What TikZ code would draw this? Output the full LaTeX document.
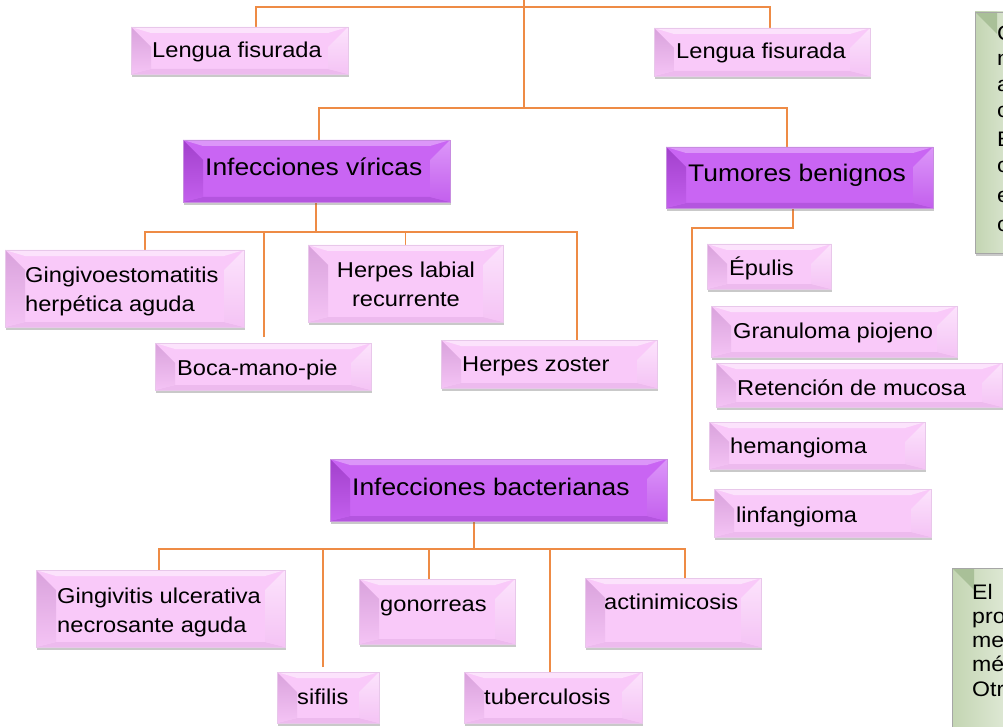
\documentclass[tikz,border=0pt]{standalone}
\usepackage{fontspec}
\setmainfont{Liberation Sans}[FakeStretch=1.1]
\usetikzlibrary{calc,shadows}
\definecolor{pinkA}{HTML}{F9C9F9}
\definecolor{pinkL}{HTML}{FCE3FC}
\definecolor{pinkD}{HTML}{D9A2DC}
\definecolor{pinkB}{HTML}{EDBAEE}
\definecolor{purA}{HTML}{C965F3}
\definecolor{purL}{HTML}{DC96F9}
\definecolor{purD}{HTML}{A240CC}
\definecolor{purB}{HTML}{B455DF}
\definecolor{grnD}{HTML}{C3D5B2}
\definecolor{grnL}{HTML}{F2F6EE}
\definecolor{grnT}{HTML}{A9C098}
\definecolor{orangeLine}{HTML}{EE8B45}
\pgfdeclarelayer{bg}
\pgfsetlayers{bg,main}
\newcommand\bevelfill[5]{%
  \fill[#1] (path picture bounding box.north west) -- (path picture bounding box.north east)
    -- ([xshift=-20pt,yshift=-6pt]path picture bounding box.north east)
    -- ([xshift=20pt,yshift=-6pt]path picture bounding box.north west) -- cycle;
  \fill[#4] (path picture bounding box.south west) -- (path picture bounding box.south east)
    -- ([xshift=-20pt,yshift=5pt]path picture bounding box.south east)
    -- ([xshift=20pt,yshift=5pt]path picture bounding box.south west) -- cycle;
  \shade[top color=#2, bottom color=#5] (path picture bounding box.north west)
    -- ([xshift=20pt,yshift=-20pt]path picture bounding box.north west)
    -- ([xshift=20pt,yshift=5pt]path picture bounding box.south west)
    -- (path picture bounding box.south west) -- cycle;
  \shade[top color=#3, bottom color=#5] (path picture bounding box.north east)
    -- ([xshift=-20pt,yshift=-20pt]path picture bounding box.north east)
    -- ([xshift=-20pt,yshift=5pt]path picture bounding box.south east)
    -- (path picture bounding box.south east) -- cycle;
}
\newcommand\mkbox[6]{\node[#1,minimum width={(#5-#3)*1pt},minimum height={(#6-#4)*1pt}] (#2) at ({(#3+#5)/2},{(#4+#6)/2}) {};}
\begin{document}
\begin{tikzpicture}[x=1pt,y=-1pt,
  boxbase/.style={inner sep=0pt,outer sep=0pt,
    drop shadow={shadow xshift=1pt,shadow yshift=-3pt,opacity=0.35,fill=black!60}},
  pinkbox/.style={boxbase,fill=pinkA,draw=pinkD!60,line width=0.4pt,
    path picture={\bevelfill{pinkL}{pinkD}{pinkL}{pinkB}{pinkA!85!pinkD}}},
  purbox/.style={boxbase,fill=purA,draw=purD!60,line width=0.4pt,
    path picture={\bevelfill{purL}{purD}{purL}{purB}{purA!85!purD}}},
  greenbox/.style={boxbase,left color=grnD,right color=grnL,draw=black!35,line width=0.5pt,
    path picture={\fill[grnT] (path picture bounding box.north west) -- ([xshift=22pt,yshift=-22pt]path picture bounding box.north west) -- ([xshift=22pt]path picture bounding box.north west) -- cycle;}},
  link/.style={draw=orangeLine,line width=1.2pt},
  smalltxt/.style={inner sep=0pt,font=\fontsize{21.5}{26}\selectfont},
  bigtxt/.style={inner sep=0pt,font=\fontsize{24}{29}\selectfont},
  gtxt/.style={inner sep=0pt,anchor=base west,font=\fontsize{21}{25}\selectfont},
]
\useasboundingbox (0,0) rectangle (1003,727);
% boxes
\mkbox{pinkbox}{lf1}{131}{27}{348}{74}
\mkbox{pinkbox}{lf2}{654}{28}{870}{76}
\mkbox{purbox}{vir}{183}{140}{450}{202}
\mkbox{purbox}{tum}{666}{147}{933}{208}
\mkbox{pinkbox}{gin}{5}{250}{244}{327}
\mkbox{pinkbox}{hl}{308}{245}{503}{322}
\mkbox{pinkbox}{boca}{155}{343}{371}{390}
\mkbox{pinkbox}{zos}{441}{340}{657}{388}
\mkbox{pinkbox}{epu}{707}{244}{831}{289}
\mkbox{pinkbox}{gra}{711}{306}{957}{357}
\mkbox{pinkbox}{ret}{716}{363}{1002}{407}
\mkbox{pinkbox}{hem}{709}{422}{925}{469}
\mkbox{pinkbox}{lin}{714}{489}{931}{537}
\mkbox{purbox}{bac}{330}{459}{667}{521}
\mkbox{pinkbox}{gui}{36}{570}{285}{647}
\mkbox{pinkbox}{gon}{359}{579}{515}{644}
\mkbox{pinkbox}{act}{585}{578}{761}{647}
\mkbox{pinkbox}{sif}{277}{672}{379}{723}
\mkbox{pinkbox}{tub}{464}{672}{642}{723}
\mkbox{greenbox}{g1}{975}{12}{1045}{253}
\mkbox{greenbox}{g2}{952}{568}{1045}{760}
% texts
\node[smalltxt,anchor=base west] (lf1t) at (152,58) {Lengua fisurada};
\node[smalltxt,anchor=base west] (lf2t) at (676,59) {Lengua fisurada};
\node[bigtxt,anchor=base west] (virt) at (205,176) {Infecciones víricas};
\node[bigtxt,anchor=base west] (tumt) at (688,182) {Tumores benignos};
\node[smalltxt,anchor=base west] (gint1) at (25,282) {Gingivoestomatitis};
\node[smalltxt,anchor=base west] (gint2) at (25,311) {herpética aguda};
\node[smalltxt,anchor=base] (hlt1) at (406,277) {Herpes labial};
\node[smalltxt,anchor=base] (hlt2) at (406,306) {recurrente};
\node[smalltxt,anchor=base west] (bocat) at (177,375) {Boca-mano-pie};
\node[smalltxt,anchor=base west] (zost) at (462,371) {Herpes zoster};
\node[smalltxt,anchor=base west] (eput) at (729,275) {Épulis};
\node[smalltxt,anchor=base west] (grat) at (733,338) {Granuloma piojeno};
\node[smalltxt,anchor=base west] (rett) at (737,395) {Retención de mucosa};
\node[smalltxt,anchor=base west] (hemt) at (730,453) {hemangioma};
\node[smalltxt,anchor=base west] (lint) at (736,522) {linfangioma};
\node[bigtxt,anchor=base west] (bact) at (352,495) {Infecciones bacterianas};
\node[smalltxt,anchor=base west] (guit1) at (57,603) {Gingivitis ulcerativa};
\node[smalltxt,anchor=base west] (guit2) at (57,632) {necrosante aguda};
\node[smalltxt,anchor=base west] (gont) at (380,611) {gonorreas};
\node[smalltxt,anchor=base west] (actt) at (604,609) {actinimicosis};
\node[smalltxt,anchor=base west] (sift) at (297,704) {sifilis};
\node[smalltxt,anchor=base west] (tubt) at (484,704) {tuberculosis};
% green texts (cut at the right edge, as in the reference)
\node[gtxt] (ga1) at (997,41) {C};
\node[gtxt] (ga2) at (997,66) {n};
\node[gtxt] (ga3) at (997,92) {a};
\node[gtxt] (ga4) at (997,118) {c};
\node[gtxt] (ga5) at (997,147) {E};
\node[gtxt] (ga6) at (997,173) {c};
\node[gtxt] (ga7) at (997,203) {e};
\node[gtxt] (ga8) at (997,232) {c};
\node[gtxt] (gb1) at (972,599) {El};
\node[gtxt] (gb2) at (972,623) {pro};
\node[gtxt] (gb3) at (972,647) {me};
\node[gtxt] (gb4) at (972,671) {mé};
\node[gtxt] (gb5) at (972,696) {Otr};
% connectors
\begin{pgfonlayer}{bg}
\fill[white] (0,0) rectangle (1003,727);
\coordinate (root) at (524,-5);
\coordinate (top7) at (524,7);
\coordinate (hub0) at (524,108);
\draw[link] (root) -- (hub0);
\draw[link] ([xshift=125pt]lf1.north west) |- (top7) -| ([xshift=116pt]lf2.north west);
\draw[link] ([xshift=136pt]vir.north west) |- (hub0) -| ([xshift=121pt]tum.north west);
\coordinate (vh) at (316,232);
\draw[link] ([xshift=133pt]vir.south west) -- (vh);
\draw[link] ([xshift=140pt]gin.north west) |- (vh) -| ([xshift=136pt]zos.north west);
\draw[link] (hl.north) -- (hl.north |- vh);
\coordinate (bocatop) at ([xshift=1pt,yshift=6pt]boca.north);
\draw[link] (bocatop) -- (bocatop |- vh);
\coordinate (tj) at (692,228);
\coordinate (tl) at (692,500);
\draw[link] ([xshift=127pt]tum.south west) |- (tj) -- (tl) -- (lin.west |- tl);
\coordinate (bh) at (474,549);
\draw[link] ([xshift=144pt]bac.south west) -- (bh);
\draw[link] ([xshift=123pt]gui.north west) |- (bh) -| ([xshift=100pt]act.north west);
\coordinate (gonc) at ([xshift=70pt]gon.north west);
\draw[link] (gonc) -- (gonc |- bh);
\coordinate (sifc) at ([xshift=46pt,yshift=5pt]sif.north west);
\draw[link] (sifc) -- (sifc |- bh);
\coordinate (tubc) at ([xshift=86pt]tub.north west);
\draw[link] (tubc) -- (tubc |- bh);
\end{pgfonlayer}
\end{tikzpicture}
\end{document}
